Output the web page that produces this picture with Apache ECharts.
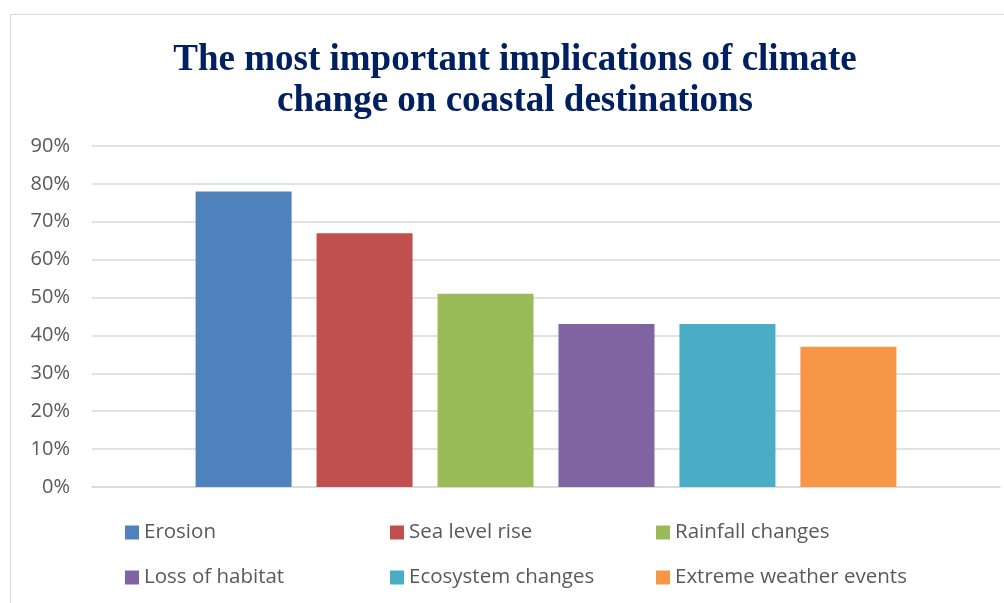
<!DOCTYPE html>
<html>
<head>
<meta charset="utf-8">
<script src="https://cdn.jsdelivr.net/npm/echarts@6/dist/echarts.min.js"></script>
<style>
  html, body { margin: 0; padding: 0; background: #fff; }
  #chart { width: 1004px; height: 603px; }
</style>
</head>
<body>
<div id="chart"></div>
<script>
// Survey results: share of respondents naming each implication
const categories = [''];
const seriesNames = ['Erosion', 'Sea level rise', 'Rainfall changes', 'Loss of habitat', 'Ecosystem changes', 'Extreme weather events'];
const seriesValues = [78, 67, 51, 43, 43, 37];
const seriesColors = ['#4F81BD', '#C0504D', '#9BBB59', '#8064A2', '#4BACC6', '#F79646'];
const yTicks = [0, 10, 20, 30, 40, 50, 60, 70, 80, 90];

const chart = echarts.init(document.getElementById('chart'));

const series = seriesNames.map((name, i) => ({
  name: name,
  type: 'bar',
  data: [seriesValues[i]],
  barWidth: 96,
  barGap: '26%',
  itemStyle: { color: seriesColors[i] },
  emphasis: { disabled: true }
}));

// Legend laid out as three columns of two rows
const legendText = { color: '#595959', fontSize: 20.5, fontFamily: 'Open Sans, Calibri, sans-serif' };
const legendCols = [[0, 3], [1, 4], [2, 5]];
const legendLefts = [125, 390, 656];
const legends = legendCols.map((idx, c) => ({
  orient: 'vertical',
  left: legendLefts[c],
  top: 522,
  padding: 0,
  itemWidth: 14,
  itemHeight: 14,
  itemGap: 24,
  icon: 'rect',
  selectedMode: false,
  textStyle: legendText,
  data: idx.map(i => seriesNames[i])
}));

chart.setOption({
  animation: false,
  title: {
    text: 'The most important implications of climate\nchange on coastal destinations',
    left: 510,
    textAlign: 'center',
    top: 35,
    textStyle: {
      fontFamily: 'Liberation Serif, Times New Roman, serif',
      fontWeight: 'bold',
      fontSize: 37,
      lineHeight: 41,
      color: '#002060'
    }
  },
  graphic: [{
    type: 'rect',
    shape: { x: 10.5, y: 14.5, width: 1010, height: 600 },
    style: { fill: 'none', stroke: '#d9d9d9', lineWidth: 1 },
    silent: true
  }],
  legend: legends,
  grid: { left: 92, right: 4, top: 146, bottom: 116, containLabel: false },
  xAxis: {
    type: 'category',
    data: categories,
    axisLine: { show: true, lineStyle: { color: '#d9d9d9', width: 1.5 } },
    axisTick: { show: false },
    axisLabel: { show: false }
  },
  yAxis: {
    type: 'value',
    min: yTicks[0],
    max: yTicks[yTicks.length - 1],
    interval: 10,
    axisLine: { show: false },
    axisTick: { show: false },
    splitLine: { lineStyle: { color: '#d9d9d9', width: 1.5 } },
    axisLabel: {
      formatter: '{value}%',
      color: '#595959',
      fontSize: 20,
      fontFamily: 'Open Sans, Calibri, sans-serif',
      margin: 22
    }
  },
  series: series
});
</script>
</body>
</html>
